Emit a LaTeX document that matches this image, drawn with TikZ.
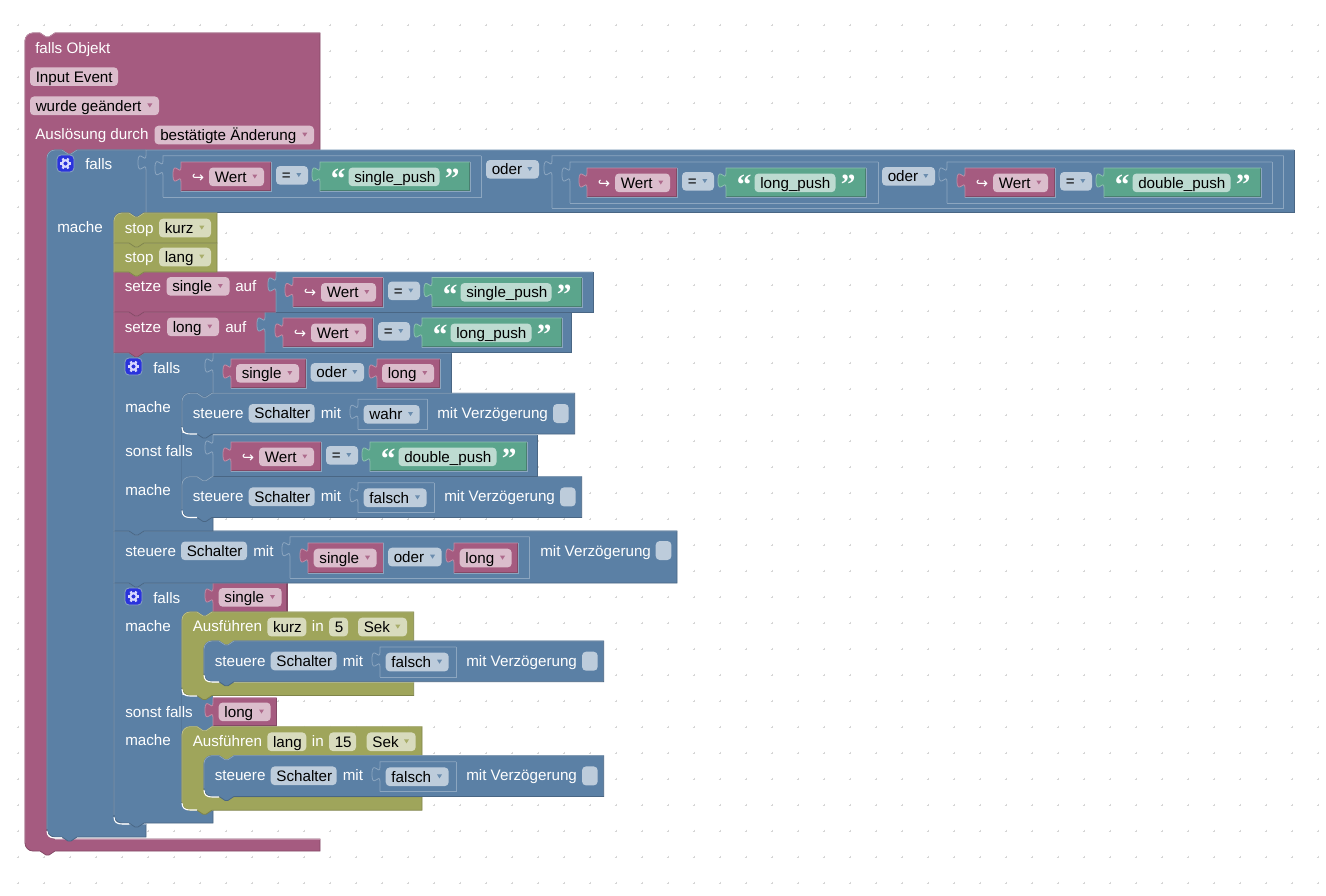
\documentclass[tikz,border=0pt]{standalone}
\usepackage{fontspec}
\setmainfont{Liberation Sans}
\newfontfamily\arrowfont{DejaVu Sans}
\newfontfamily\quotefont{Liberation Serif}
\definecolor{mv}{HTML}{A55B80}
\definecolor{mvL}{HTML}{C08CA6}
\definecolor{mvD}{HTML}{844966}
\definecolor{mvI}{HTML}{844966}
\definecolor{bl}{HTML}{5B80A5}
\definecolor{blL}{HTML}{8CA6C0}
\definecolor{blD}{HTML}{496684}
\definecolor{blI}{HTML}{5B80A5}
\definecolor{ol}{HTML}{9FA55B}
\definecolor{olL}{HTML}{BCC08C}
\definecolor{olD}{HTML}{7F844A}
\definecolor{gr}{HTML}{5BA58C}
\definecolor{grL}{HTML}{8CC0AF}
\definecolor{grD}{HTML}{497F70}
\definecolor{grI}{HTML}{497F70}
\definecolor{gearblue}{HTML}{2A33DC}
\tikzset{
  txt/.style={anchor=base west,inner sep=0pt,font=\fontsize{11.4}{13}\selectfont},
  lbl/.style={txt,text=white},
  fld/.style={txt,text=black},
  griddot/.style={draw=black!16,line width=.4pt},
  edge/.style={line width=.6pt},
  fieldbg/.style={fill=white,fill opacity=.6},
  glowline/.style={draw=white,line width=.8pt}
}
\newcounter{nodeno}
\newcommand{\lbl}[3]{\stepcounter{nodeno}\node[lbl] (n\thenodeno) at (#1,#2) {#3};}
\newcommand{\field}[4]{%
  \fill[fieldbg,rounded corners=3pt] (#1,#2) rectangle (#1+#3,#2+18.7);
  \stepcounter{nodeno}\node[fld] (n\thenodeno) at (#1+5.5,#2+14.8) {#4};}
\newcommand{\fieldd}[5]{%
  \field{#2}{#3}{#4}{#5}
  \fill[#1!90!white] (#2+#4-11.7,#3+7) -- ++(5,0) -- ++(-2.5,4) -- cycle;}
\newcommand{\chkbox}[2]{\fill[fieldbg,rounded corners=3pt] (#1,#2) rectangle (#1+15.7,#2+19);}
\newcommand{\vblock}[6][blL]{%
  \colorlet{base}{#2}\colorlet{baseI}{#2I}\colorlet{baseL}{#2L}
  \fill[base] (#3,#4+20) .. controls (#3,#4+10) and (#3-8,#4+28) .. (#3-8,#4+12.5)
    .. controls (#3-8,#4-3) and (#3,#4+15) .. (#3,#4+5) -- (#3,#4) -- (#5,#4) -- (#5,#6) -- (#3,#6) -- cycle;
  \draw[baseI,edge] (#3,#6-.8) -- (#5-.8,#6-.8) -- (#5-.8,#4);
  \draw[#1,edge] (#3,#6) -- (#5,#6) -- (#5,#4);
  \draw[baseL,edge] (#3,#6) -- (#3,#4+20) .. controls (#3,#4+10) and (#3-8,#4+28) .. (#3-8,#4+12.5)
    .. controls (#3-8,#4-3) and (#3,#4+15) .. (#3,#4+5) -- (#3,#4) -- (#5,#4);}
\newcommand{\stmtblock}[7]{%
  \colorlet{base}{#1}\colorlet{baseD}{#1D}\colorlet{baseL}{#1L}
  \draw[fill=base,draw=baseD,edge] (#4,#7-#3) -- (#4,#5+#2) .. controls (#4,#5+.45*#2) and (#4+.45*#2,#5) .. (#4+#2,#5)
    -- (#4+15,#5) -- (#4+21,#5+4) -- (#4+24,#5+4) -- (#4+30,#5) -- (#6,#5) -- (#6,#7)
    -- (#4+30,#7) -- (#4+24,#7+4) -- (#4+21,#7+4) -- (#4+15,#7) -- (#4+#3,#7)
    .. controls (#4+.45*#3,#7) and (#4,#7-.45*#3) .. (#4,#7-#3) -- cycle;
  \draw[baseL,edge] (#4,#7-#3) -- (#4,#5+#2) .. controls (#4,#5+.45*#2) and (#4+.45*#2,#5) .. (#4+#2,#5)
    -- (#4+15,#5) -- (#4+21,#5+4) -- (#4+24,#5+4) -- (#4+30,#5) -- (#6,#5);}
\newcommand{\cblock}[7]{\colorlet{base}{#1}\colorlet{baseD}{#1D}\colorlet{baseL}{#1L}%
  \def\rt{#2}\def\rb{#3}\def\xa{#4}\def\ya{#5}\def\xb{#6}\def\yb{#7}\cblockrest}
\newcommand{\cblockrest}[4]{%
  \draw[fill=base,draw=baseD,edge] (\xa,\ya+\rt) .. controls (\xa,\ya+.45*\rt) and (\xa+.45*\rt,\ya) .. (\xa+\rt,\ya)
    -- (\xa+15,\ya) -- (\xa+21,\ya+4) -- (\xa+24,\ya+4) -- (\xa+30,\ya) -- (\xb,\ya) -- (\xb,\yb)
    -- (#1+30,\yb) -- (#1+24,\yb+4) -- (#1+21,\yb+4) -- (#1+15,\yb) -- (#1+8,\yb)
    .. controls (#1+3.5,\yb) and (#1,\yb+3.5) .. (#1,\yb+8) -- (#1,#2-8)
    .. controls (#1,#2-3.5) and (#1+3.5,#2) .. (#1+8,#2) -- (#3,#2) -- (#3,#4)
    -- (\xa+30,#4) -- (\xa+24,#4+4) -- (\xa+21,#4+4) -- (\xa+15,#4) -- (\xa+\rb,#4)
    .. controls (\xa+.45*\rb,#4) and (\xa,#4-.45*\rb) .. (\xa,#4-\rb) -- cycle;
  \draw[baseL,edge] (\xa,#4-\rb) -- (\xa,\ya+\rt) .. controls (\xa,\ya+.45*\rt) and (\xa+.45*\rt,\ya) .. (\xa+\rt,\ya)
    -- (\xa+15,\ya) -- (\xa+21,\ya+4) -- (\xa+24,\ya+4) -- (\xa+30,\ya) -- (\xb,\ya);
  \draw[baseL,edge] (#1+8,#2) -- (#3,#2);}
\newcommand{\glow}[2]{\draw[glowline] (#1,#2-7) .. controls (#1,#2-2) and (#1+3,#2) .. (#1+8,#2) -- (#1+15,#2);}
\newcommand{\wert}[2]{%
  \vblock{mv}{#1}{#2}{#1+90}{#2+29.5}
  \stepcounter{nodeno}\node[lbl,font=\arrowfont\fontsize{11}{12}\selectfont] (n\thenodeno) at (#1+10.5,#2+20) {↪};
  \fieldd{mv}{#1+28}{#2+5.5}{55}{Wert}}
\newcommand{\strb}[4]{%
  \vblock{gr}{#1}{#2}{#1+#3+59}{#2+29.5}
  \stepcounter{nodeno}\node[lbl,font=\quotefont\bfseries\fontsize{22}{22}\selectfont] (n\thenodeno) at (#1+10.5,#2+26.5) {“};
  \field{#1+28.5}{#2+5.5}{#3}{#4}
  \stepcounter{nodeno}\node[lbl,font=\quotefont\bfseries\fontsize{22}{22}\selectfont] (n\thenodeno) at (#1+33.5+#3,#2+26.5) {”};}
\newcommand{\valrow}[4]{%
  \wert{#1}{#2}
  \fieldd{bl}{#1+95}{#2+4}{32}{=}
  \strb{#1+139}{#2}{#3}{#4}}
\newcommand{\steuere}[4]{%
  \pgfmathsetmacro{\xr}{176+#3+13}
  \pgfmathsetmacro{\xe}{\xr+147.7}
  \begin{scope}[shift={(#1,#2)}]
    \stmtblock{bl}{8}{8}{0}{0}{\xe}{40.7}
    \lbl{10.5}{25}{steuere}
    \field{66.7}{10.7}{66}{Schalter}
    \lbl{138.5}{25}{mit}
    \vblock{bl}{176}{6}{\xr}{36}
    \fieldd{bl}{181.7}{11.7}{#3}{#4}
    \lbl{\xr+10}{25}{mit Verzögerung}
    \chkbox{\xr+126}{10.7}
  \end{scope}}
\newcommand{\ausfuehren}[6]{%
  \pgfmathsetmacro{\yh}{#1+29}\pgfmathsetmacro{\yi}{#1+70}\pgfmathsetmacro{\yz}{#1+83.5}
  \cblock{ol}{8}{8}{182}{#1}{#2}{\yh}{204}{\yi}{#2}{\yz}
  \begin{scope}[shift={(0,#1)}]
    \lbl{192.5}{19.5}{Ausführen}
    \field{267.3}{5.7}{39}{#3}
    \lbl{311.7}{19.5}{in}
    \field{329}{5.7}{#5}{#4}
    \fieldd{ol}{#6}{5.7}{49}{Sek}
  \end{scope}
  \steuere{204}{\yh}{63}{falsch}}
\newcommand{\gearbox}[2]{%
  \begin{scope}[shift={(#1,#2)}]
    \draw[fill=gearblue,draw=blL,edge,rounded corners=3pt] (0,0) rectangle (17,17);
    \foreach \a in {0,60,...,300} {
      \draw[white!85!blue,line width=1.7pt] (8.5,8.5) ++(\a:3.2) -- ++(\a:2.6);
    }
    \draw[white!85!blue,line width=1.5pt] (8.5,8.5) circle (3.2);
  \end{scope}}

\begin{document}
\begin{tikzpicture}[x=.75pt,y=-.75pt]
  \useasboundingbox (0,0) rectangle (1326,895);
  \fill[white] (0,0) rectangle (1326,895);
  \foreach \i in {0,...,50} {
    \foreach \j in {0,...,33} {
      \draw[griddot] (18+26*\i-1.3,25+26*\j) -- ++(2.6,0) (18+26*\i,25+26*\j-1.3) -- ++(0,2.6);
    }
  }

  \cblock{mv}{8}{8}{25}{33}{320}{150}{47}{839}{320}{851}
  \lbl{35}{53.5}{falls Objekt}
  \field{30}{67.3}{88}{Input Event}
  \fieldd{mv}{30}{96.5}{129}{wurde geändert}
  \lbl{35}{140}{Auslösung durch}
  \fieldd{mv}{154.5}{125.7}{159.5}{bestätigte Änderung}

  \cblock{bl}{8}{8}{47}{150}{146}{212.5}{114}{824}{146}{837}
  \gearbox{57}{155}
  \lbl{85}{169}{falls}
  \lbl{57}{232}{mache}
  \vblock[blD]{bl}{146}{150}{1294}{212.5}
  \vblock{bl}{163}{155.7}{481}{197}
  \valrow{181}{162}{91}{single\_push}
  \fieldd{bl}{486}{160}{53}{oder}
  \vblock{bl}{552}{155.7}{1283.5}{208}
  \vblock{bl}{570}{162}{878}{203}
  \valrow{587}{168}{81}{long\_push}
  \fieldd{bl}{882}{167}{53}{oder}
  \vblock{bl}{947}{162}{1272}{203}
  \valrow{965}{168}{98}{double\_push}

  \cblock{bl}{0}{8}{114}{583}{213}{612}{182}{810}{213}{823}
  \fill[bl] (182,695) rectangle (213,731);
  \gearbox{125}{588}
  \lbl{153}{603}{falls}
  \lbl{125}{631}{mache}
  \lbl{125}{717}{sonst falls}
  \lbl{125}{745}{mache}
  \vblock[mvD]{mv}{213}{583}{287.5}{611.7}
  \fieldd{mv}{218.7}{588}{63}{single}
  \vblock[mvD]{mv}{213}{697.7}{276.7}{726.3}
  \fieldd{mv}{218.7}{702.5}{52}{long}
  \ausfuehren{726.7}{422}{lang}{15}{27}{366.7}
  \ausfuehren{612}{413.7}{kurz}{5}{19}{358}

  \stmtblock{bl}{0}{0}{114}{531}{677}{583}
  \lbl{125}{556}{steuere}
  \field{181}{541.5}{66}{Schalter}
  \lbl{253}{556}{mit}
  \vblock{bl}{290}{536.7}{529.7}{578.3}
  \vblock{mv}{308}{543}{383.7}{573.3}
  \fieldd{mv}{313.7}{548.7}{63}{single}
  \fieldd{bl}{388}{547.7}{53.7}{oder}
  \vblock{mv}{454}{543}{518}{573.3}
  \fieldd{mv}{459.7}{548.7}{52}{long}
  \lbl{540}{556}{mit Verzögerung}
  \chkbox{655.7}{541}

  \cblock{bl}{0}{0}{114}{353}{213}{393}{182}{517}{213}{531}
  \fill[bl] (182,433) rectangle (213,481);
  \gearbox{125}{358}
  \lbl{153}{373}{falls}
  \lbl{125}{412}{mache}
  \lbl{125}{456}{sonst falls}
  \lbl{125}{495}{mache}
  \vblock[blD]{bl}{213}{353}{451.5}{393}
  \vblock{mv}{231}{359}{306}{388.3}
  \fieldd{mv}{236}{364}{63}{single}
  \fieldd{bl}{310.7}{363}{53.3}{oder}
  \vblock{mv}{377}{359}{440}{388.3}
  \fieldd{mv}{382}{364}{52}{long}
  \steuere{182}{476.7}{63}{falsch}
  \vblock[blD]{bl}{213}{435}{537}{476.5}
  \valrow{231}{442}{98}{double\_push}
  \steuere{182}{393.3}{56}{wahr}

  \stmtblock{mv}{0}{0}{114}{312}{265}{352.7}
  \lbl{124.5}{332}{setze}
  \fieldd{mv}{167}{317.5}{52}{long}
  \lbl{225}{332}{auf}
  \vblock[blD]{bl}{265}{312}{571}{352.7}
  \valrow{283}{318}{81}{long\_push}

  \stmtblock{mv}{0}{0}{114}{272}{276}{312}
  \lbl{124.5}{291}{setze}
  \fieldd{mv}{166.5}{277}{63}{single}
  \lbl{235}{291}{auf}
  \vblock[blD]{bl}{276}{272}{593}{312}
  \valrow{293}{277.5}{91}{single\_push}

  \stmtblock{ol}{0}{0}{114}{243}{217}{272}
  \lbl{124.5}{262}{stop}
  \fieldd{ol}{159}{247.7}{52}{lang}
  \stmtblock{ol}{8}{0}{114}{213}{217}{243}
  \lbl{124.5}{233}{stop}
  \fieldd{ol}{159}{218.7}{52}{kurz}

  \foreach \x/\y in {47/838,114/824,182/434,182/517.5,182/696,182/810,204/682,204/797} {
    \glow{\x}{\y}
  }
\end{tikzpicture}
\end{document}
